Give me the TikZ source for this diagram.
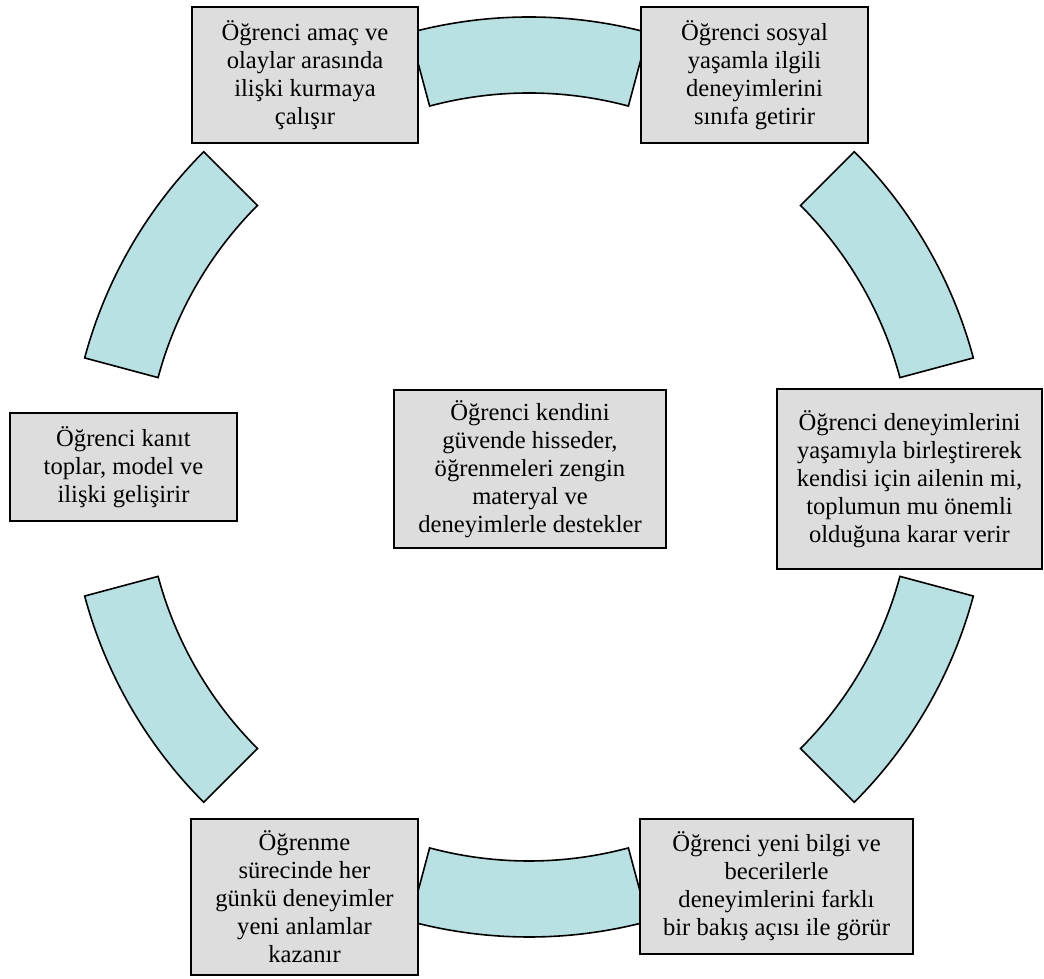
\documentclass[tikz,border=0pt]{standalone}
\usepackage{fontspec}
\setmainfont{Liberation Serif}
\definecolor{arcfill}{RGB}{185,224,227}
\definecolor{boxfill}{RGB}{221,221,221}
\begin{document}
\begin{tikzpicture}[x=1pt,y=1pt,
  box/.style={draw=black, line width=2pt, fill=boxfill, align=center, inner sep=0pt,
    font=\fontsize{24.6}{28}\selectfont},
  ringpart/.style={draw=black, line width=1.6pt, fill=arcfill, line join=miter}]
\useasboundingbox (0,0) rectangle (1044,979);
\coordinate (C) at (529,502);
% ring segments
\foreach \a in {15,75,135,195,255,315}{
  \pgfmathsetmacro{\b}{\a+30}
  \draw[ringpart] ([shift={(\a:460)}]C) arc[start angle=\a, end angle=\b, radius=460]
     -- ([shift={(\b:384)}]C) arc[start angle=\b, end angle=\a, radius=384] -- cycle;
}
% boxes
\node[box, minimum width=226pt, minimum height=136pt] (tl) at (305,904)
  {Öğrenci amaç ve\\olaylar arasında\\ilişki kurmaya\\çalışır};
\node[box, minimum width=227pt, minimum height=136pt] (tr) at (754.5,904)
  {Öğrenci sosyal\\yaşamla ilgili\\deneyimlerini\\sınıfa getirir};
\node[box, minimum width=265pt, minimum height=180pt] (rm) at (909.5,500)
  {Öğrenci deneyimlerini\\yaşamıyla birleştirerek\\kendisi için ailenin mi,\\toplumun mu önemli\\olduğuna karar verir};
\node[box, minimum width=227pt, minimum height=108pt] (lm) at (123.5,512)
  {Öğrenci kanıt\\toplar, model ve\\ilişki gelişirir};
\node[box, minimum width=272pt, minimum height=158pt] (cm) at (530,510)
  {Öğrenci kendini\\güvende hisseder,\\öğrenmeleri zengin\\materyal ve\\deneyimlerle destekler};
\node[box, minimum width=227pt, minimum height=156pt] (bl) at (304.5,82)
  {Öğrenme\\sürecinde her\\günkü deneyimler\\yeni anlamlar\\kazanır};
\node[box, minimum width=273pt, minimum height=135pt] (br) at (776.5,92.5)
  {Öğrenci yeni bilgi ve\\becerilerle\\deneyimlerini farklı\\bir bakış açısı ile görür};
\end{tikzpicture}
\end{document}
